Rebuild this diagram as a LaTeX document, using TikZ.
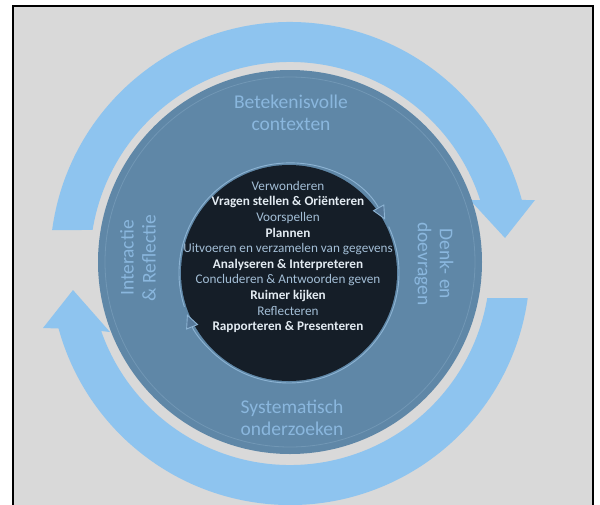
\documentclass[tikz,border=0pt]{standalone}
\usepackage{fontspec}
\setmainfont{Carlito}
\usetikzlibrary{arrows.meta}
\definecolor{bg}{HTML}{D9D9D9}
\definecolor{band}{HTML}{8EC4EF}
\definecolor{disk}{HTML}{5F87A7}
\definecolor{diskrim}{HTML}{7197B5}
\definecolor{outertxt}{HTML}{8AB7DE}
\definecolor{core}{HTML}{151E28}
\definecolor{ring}{HTML}{8CB3D3}
\definecolor{tipfill}{HTML}{56799A}
\definecolor{softtxt}{HTML}{A3BED6}
\definecolor{brighttxt}{HTML}{E3EBF2}
\tikzset{
  outerlabel/.style={text=outertxt, align=center, font=\fontsize{19.5}{22}\selectfont, inner sep=0pt},
  corelist/.style={align=center, font=\fontsize{13.2}{15.6}\selectfont, inner sep=0pt},
  ringarrow/.style={draw=ring, line width=0.9pt, -{Triangle[length=14pt,width=13pt,fill=tipfill]}}
}
\newcommand{\soft}[1]{{\color{softtxt}#1}}
\newcommand{\bright}[1]{{\bfseries\color{brighttxt}#1}}
\begin{document}
\begin{tikzpicture}[x=1pt,y=-1pt]
\useasboundingbox (0,0) rectangle (600,504);
\fill[white] (0,0) rectangle (600,504);
\draw[line width=2pt, fill=bg] (13,6) rectangle (593,530);
% top circular arrow
\fill[band] (52.14,230) arc[start angle=187.66, end angle=345.03, radius=240]
  -- (535,200) -- (505,238) -- (470,200) -- (480.15,200)
  arc[start angle=341.94, end angle=189.21, radius=200] -- cycle;
% bottom circular arrow
\fill[band] (527.72,298) arc[start angle=7.9, end angle=164.66, radius=240]
  -- (43,328) -- (73,290) -- (110,332) -- (101.2,331)
  arc[start angle=160.73, end angle=9.5, radius=200] -- cycle;
% main disk
\fill[disk] (290,262) circle[radius=192];
\draw[diskrim, line width=0.8pt] (290,262) circle[radius=185];
% core
\fill[core] (289,273) circle[radius=108];
\coordinate (cc) at (289,273);
\draw[ringarrow] (cc) ++(162:110) arc[start angle=162, end angle=331, radius=110];
\draw[ringarrow] (cc) ++(335:110) arc[start angle=335, end angle=518, radius=110];
% labels
\node[outerlabel] (ctx) at (291,113) {Betekenisvolle\\contexten};
\node[outerlabel] (sys) at (292,418) {Systematisch\\onderzoeken};
\node[outerlabel, rotate=90] (ir) at (138,258) {Interactie\\\& Reflectie};
\node[outerlabel, rotate=-90] (dd) at (434,264) {Denk- en\\doevragen};
\node[corelist] (steps) at (288,257) {\soft{Verwonderen}\\
\bright{Vragen stellen \& Oriënteren}\\
\soft{Voorspellen}\\
\bright{Plannen}\\
\soft{Uitvoeren en verzamelen van gegevens}\\
\bright{Analyseren \& Interpreteren}\\
\soft{Concluderen \& Antwoorden geven}\\
\bright{Ruimer kijken}\\
\soft{Reflecteren}\\
\bright{Rapporteren \& Presenteren}};
\end{tikzpicture}
\end{document}
